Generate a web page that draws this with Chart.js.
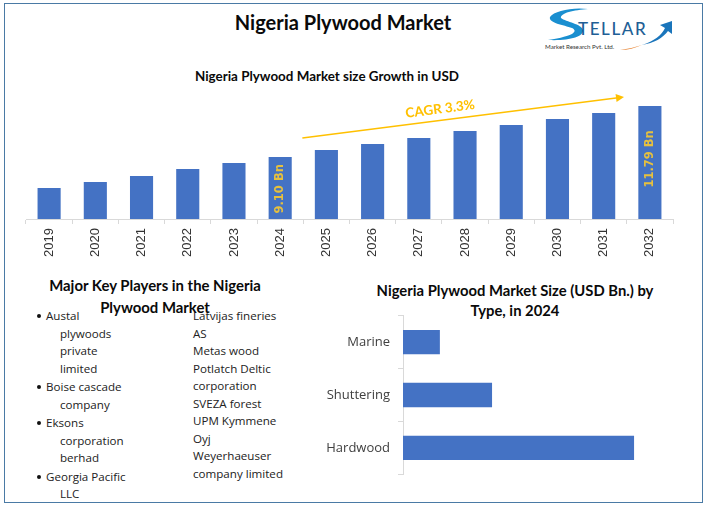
<!DOCTYPE html>
<html>
<head>
<meta charset="utf-8">
<title>Nigeria Plywood Market</title>
<script src="https://cdn.jsdelivr.net/npm/chart.js@4"></script>
<style>
    html, body { margin: 0; padding: 0; background: #fff; overflow: hidden; }
    #page { position: relative; width: 708px; height: 507px; font-family: "Open Sans", sans-serif; }
    #frame { position: absolute; left: 4px; top: 3px; width: 697px; height: 498px; border: 1.5px solid #4a7aa5; }
    canvas { position: absolute; }
    #growthCanvas { left: 0; top: 90px; }
    #typeCanvas { left: 310px; top: 300px; }
    .title { position: absolute; font-weight: 700; color: #0a0a0a; text-align: center; white-space: nowrap; }
    #mainTitle { left: 143px; width: 400px; top: 9px; font: 700 20px/26px Lato, sans-serif; }
    #growthTitle { left: 127px; width: 400px; top: 67px; font: 700 13.4px/18px Lato, sans-serif; }
    #playersTitle { left: 5px; width: 300px; top: 274px; font: 700 14.9px/22px Lato, sans-serif; }
    #typeTitle { left: 315px; width: 400px; top: 280px; font: 700 14.8px/20px Lato, sans-serif; }
    .players { position: absolute; top: 307px; margin: 0; padding: 0; list-style: none;
        font-size: 11.6px; line-height: 17.5px; color: #222; white-space: nowrap; }
    #playersLeft { left: 46px; }
    #playersLeft li { position: relative; padding-left: 14px; text-indent: -14px; margin-bottom: 1px; }
    #playersLeft li::before { content: ""; position: absolute; left: -9px; top: 7px; width: 4px; height: 4px;
        border-radius: 50%; background: #111; }
    #playersRight { left: 193px; }
    #logo { position: absolute; left: 530px; top: 4px; }
</style>
</head>
<body>
<div id="page">
    <div id="frame"></div>
    <div class="title" id="mainTitle">Nigeria Plywood Market</div>
    <svg id="logo" width="150" height="52" viewBox="0 0 150 52">
        <path d="M58 5 C42 3 24 7 20 13 C18 19 34 21 42 24 C48 27 45 32 18 36 C38 37 54 33 53 26 C52 20 36 18 31 14 C30 9 44 6 58 5 Z" fill="#1a8fd0"/>
        <text x="48" y="31" font-family="Lato, sans-serif" font-size="17" font-weight="500" letter-spacing="1.6" fill="#1f5f96">TELLAR</text>
        <path d="M112 41 C124 37 132 31 135 24 L130 21 L142 17 L142 30 L138 27 C133 34 124 39 112 41 Z" fill="#1a75bb"/>
        <path d="M90 46 C98 45 105 43 112 41 C105 44 98 46 90 46 Z" fill="#e8883a"/>
        <text x="15" y="45" font-family="Lato, sans-serif" font-size="6.2" fill="#333">Market Research Pvt. Ltd.</text>
    </svg>
    <div class="title" id="growthTitle">Nigeria Plywood Market size Growth in USD</div>
    <canvas id="growthCanvas" width="708" height="180"></canvas>
    <div class="title" id="playersTitle">Major Key Players in the Nigeria<br>Plywood Market</div>
    <ul class="players" id="playersLeft"></ul>
    <ul class="players" id="playersRight"></ul>
    <div class="title" id="typeTitle">Nigeria Plywood Market Size (USD Bn.) by<br>Type, in 2024</div>
    <canvas id="typeCanvas" width="398" height="190"></canvas>
</div>

<script>
const years = ["2019", "2020", "2021", "2022", "2023", "2024", "2025", "2026", "2027", "2028", "2029", "2030", "2031", "2032"];
const marketSize = [7.46, 7.78, 8.10, 8.47, 8.78, 9.10, 9.47, 9.78, 10.10, 10.47, 10.78, 11.10, 11.42, 11.79];

const typeNames = ["Marine", "Shuttering", "Hardwood"];
const typeSize = [0.94, 2.27, 5.89];

const playersLeft = ["Austal<br>plywoods<br>private<br>limited", "Boise cascade<br>company", "Eksons<br>corporation<br>berhad", "Georgia Pacific<br>LLC"];
const playersRight = ["Latvijas fineries", "AS", "Metas wood", "Potlatch Deltic", "corporation", "SVEZA forest", "UPM Kymmene", "Oyj", "Weyerhaeuser", "company limited"];

const BLUE = "#4472c4";
const AXIS_GREY = "#d9d9d9";
const GOLD = "#ffc000";

document.getElementById("playersLeft").innerHTML = playersLeft.map((p) => `<li>${p}</li>`).join("");
document.getElementById("playersRight").innerHTML = playersRight.map((p) => `<li>${p}</li>`).join("");

// trend arrow and rotated labels, placed through the chart's own scales
const growthNotes = {
    id: "growthNotes",
    afterDatasetsDraw(chart) {
        const { ctx, scales: { x, y } } = chart;
        const x1 = x.getPixelForValue(5.48), y1 = y.getPixelForValue(10.10);
        const x2 = x.getPixelForValue(12.44), y2 = y.getPixelForValue(12.26);
        const angle = Math.atan2(y2 - y1, x2 - x1);

        ctx.save();
        ctx.strokeStyle = GOLD;
        ctx.lineWidth = 1.5;
        ctx.beginPath();
        ctx.moveTo(x1, y1);
        ctx.lineTo(x2 - 6, y2 - 6 * Math.sin(angle));
        ctx.stroke();

        ctx.translate(x2, y2);
        ctx.rotate(angle);
        ctx.fillStyle = GOLD;
        ctx.beginPath();
        ctx.moveTo(0, 0);
        ctx.lineTo(-8, -4);
        ctx.lineTo(-8, 4);
        ctx.closePath();
        ctx.fill();
        ctx.restore();

        ctx.save();
        ctx.translate(x.getPixelForValue(8.46), y.getPixelForValue(11.63));
        ctx.rotate(-0.13);
        ctx.fillStyle = GOLD;
        ctx.font = "700 13.5px Lato, sans-serif";
        ctx.textAlign = "center";
        ctx.textBaseline = "middle";
        ctx.fillText("CAGR 3.3%", 0, 0);
        ctx.restore();

        [[5, "9.10 Bn", 7.42], [13, "11.79 Bn", 9.0]].forEach(([i, text, at]) => {
            ctx.save();
            ctx.translate(chart.getDatasetMeta(0).data[i].x, y.getPixelForValue(at));
            ctx.rotate(-Math.PI / 2);
            ctx.fillStyle = "#e6c03e";
            ctx.font = "700 11.5px 'DejaVu Sans', sans-serif";
            ctx.textAlign = "center";
            ctx.textBaseline = "middle";
            ctx.fillText(text, 0, 0);
            ctx.restore();
        });
    }
};

new Chart(document.getElementById("growthCanvas"), {
    type: "bar",
    data: {
        labels: years,
        datasets: [{ data: marketSize, backgroundColor: BLUE, barPercentage: 0.5, categoryPercentage: 1 }]
    },
    options: {
        responsive: false,
        animation: false,
        layout: { padding: { left: 26, right: 35, top: 0, bottom: 0 } },
        plugins: { legend: { display: false }, tooltip: { enabled: false } },
        scales: {
            x: {
                afterFit: (scale) => { scale.height = 51; },
                border: { color: AXIS_GREY },
                grid: { offset: true, drawOnChartArea: false, color: AXIS_GREY, tickLength: 5 },
                ticks: {
                    minRotation: 90, maxRotation: 90, padding: 4, autoSkip: false, color: "#333",
                    font: { family: "'Liberation Sans', Arial, sans-serif", size: 13 }
                }
            },
            y: { display: false, min: 5.83, max: 12.63 }
        }
    },
    plugins: [growthNotes]
});

new Chart(document.getElementById("typeCanvas"), {
    type: "bar",
    data: {
        labels: typeNames,
        datasets: [{ data: typeSize, backgroundColor: BLUE, barPercentage: 0.46, categoryPercentage: 1 }]
    },
    options: {
        indexAxis: "y",
        responsive: false,
        animation: false,
        layout: { padding: { left: 0, right: 30, top: 14, bottom: 14 } },
        plugins: { legend: { display: false }, tooltip: { enabled: false } },
        scales: {
            y: {
                afterFit: (scale) => { scale.width = 93; },
                border: { color: AXIS_GREY },
                grid: { offset: true, drawOnChartArea: false, color: AXIS_GREY, tickLength: 5 },
                ticks: { padding: 8, color: "#404040", font: { family: "'Open Sans', sans-serif", size: 13 } }
            },
            x: { display: false, min: 0, max: 7.01 }
        }
    }
});
</script>
</body>
</html>
